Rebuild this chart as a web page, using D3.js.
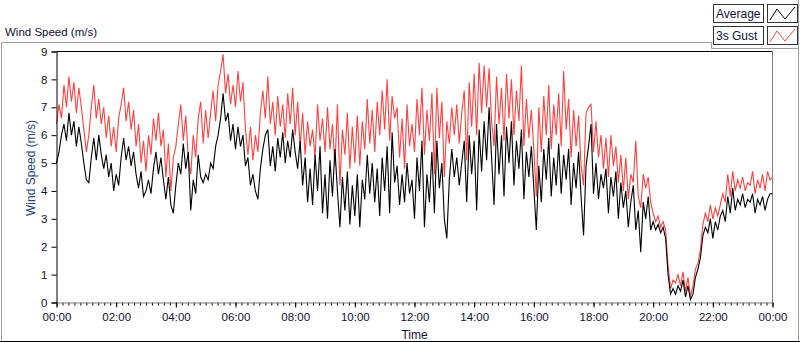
<!DOCTYPE html>
<html>
<head>
<meta charset="utf-8">
<script src="https://cdn.jsdelivr.net/npm/d3@7"></script>
<style>
  body { margin: 0; background: #fff; }
  svg { display: block; font-family: "Liberation Sans", Arial, sans-serif; }
  .tick text { font-size: 11.5px; fill: #111133; }
  .tick line { stroke: #000; }
  .minor .domain { display: none; }
</style>
</head>
<body>
<svg id="chart" width="800" height="342"></svg>
<script>
// wind speed, one value every 5 minutes, 00:00 .. 24:00 (m/s)
var sampleMinutes = 5;

var average = [
  5.0,5.4,6.0,6.4,5.8,6.8,6.0,6.5,5.6,6.3,5.7,5.0,
  4.4,4.3,5.2,5.9,5.1,6.0,5.3,4.8,5.3,4.5,5.0,4.0,
  4.6,4.2,5.2,5.9,5.1,5.6,4.9,5.4,4.6,4.1,4.7,3.8,
  4.0,4.4,3.9,4.8,5.4,4.6,5.2,4.4,3.7,4.5,3.5,3.2,
  4.2,5.0,4.6,5.7,4.8,5.4,3.3,4.4,3.9,5.3,4.5,4.3,
  4.6,4.4,5.0,4.8,5.6,6.0,6.6,7.5,6.5,6.8,5.8,6.4,
  5.5,6.3,5.6,6.0,4.9,5.2,4.2,4.6,4.0,3.7,4.8,5.5,
  6.0,6.2,4.9,5.6,4.7,5.9,5.2,6.1,5.0,5.8,5.2,6.2,
  5.4,4.8,5.8,4.2,5.2,3.6,4.8,3.5,5.3,4.0,5.6,3.2,
  4.6,3.0,5.1,3.8,5.5,4.0,2.7,4.5,3.3,4.7,2.8,4.2,
  3.1,4.6,2.7,4.4,3.7,5.3,3.9,5.0,3.6,4.8,3.1,5.2,
  4.0,5.6,3.2,6.1,4.3,4.9,3.5,4.6,3.6,5.0,3.9,4.4,
  3.0,5.2,4.0,5.8,2.7,4.6,3.6,5.4,3.2,5.8,4.1,5.0,
  3.0,2.3,4.4,5.5,4.5,5.2,4.2,5.0,5.8,3.6,6.0,4.6,
  5.8,3.3,6.2,4.7,6.5,5.1,7.0,5.2,3.5,6.4,4.6,6.0,
  3.8,6.3,5.0,6.5,4.2,5.8,4.8,6.2,3.7,5.4,4.5,5.6,
  4.1,2.6,4.9,3.6,5.5,4.4,5.9,3.8,5.2,4.2,5.7,3.9,
  5.3,4.4,5.5,3.5,5.0,4.1,5.4,3.8,2.4,4.9,5.6,6.4,
  3.9,5.0,3.7,4.6,4.1,4.8,3.2,4.5,3.8,4.7,3.0,4.3,
  3.4,4.0,2.7,3.6,4.2,2.6,3.3,1.8,3.6,3.0,3.8,2.6,
  2.9,2.6,2.8,2.5,2.7,2.3,1.0,0.3,0.5,0.3,0.6,0.4,
  0.8,0.2,0.6,0.1,0.3,0.9,1.2,1.6,2.4,2.7,2.5,3.0,
  2.3,2.9,2.6,3.1,3.3,2.9,3.8,3.2,4.1,3.3,3.7,3.5,
  3.9,3.4,3.7,3.6,3.9,3.2,3.7,3.5,3.8,3.3,3.7,3.9,
  3.9
];

var gust = [
  6.4,7.1,6.6,7.8,7.0,8.1,7.2,7.9,6.8,7.7,7.0,6.2,
  5.4,6.0,7.0,7.8,6.6,7.3,6.4,7.0,5.9,6.7,5.6,6.3,
  5.4,6.6,7.1,7.7,6.5,7.2,6.2,6.9,5.6,6.4,5.0,5.8,
  4.7,6.0,5.3,6.6,5.8,6.8,5.6,6.2,4.5,5.7,4.0,5.2,
  5.6,6.4,7.1,5.8,6.7,5.2,4.6,6.0,5.2,6.6,7.2,5.7,
  6.9,5.9,6.8,7.6,6.5,7.8,8.3,8.9,7.5,8.2,7.1,7.8,
  7.0,8.3,7.2,7.9,6.2,5.3,6.3,5.1,6.0,5.4,6.8,7.6,
  6.6,8.1,6.4,7.2,6.0,7.4,6.3,7.1,5.9,7.5,6.4,7.7,
  6.0,7.2,5.6,6.8,5.3,6.5,5.6,6.2,5.2,7.1,5.8,6.6,
  5.4,7.0,5.5,6.4,4.9,7.1,4.2,6.2,5.3,6.8,4.8,6.3,
  5.0,6.7,4.9,6.5,5.5,7.3,5.7,6.9,5.4,7.2,6.0,7.6,
  6.2,8.0,5.8,7.4,6.6,7.0,5.2,6.6,4.8,7.1,5.6,6.4,
  5.4,7.3,6.0,7.7,5.3,6.9,5.8,7.5,4.6,7.7,5.9,7.2,
  4.5,6.5,5.7,7.0,6.0,7.1,5.7,6.8,7.6,5.1,7.9,6.3,
  8.2,6.0,8.6,6.8,8.5,7.0,8.4,6.5,5.6,8.1,6.4,7.7,
  5.8,8.2,6.6,8.0,6.0,7.6,6.5,8.5,5.6,7.3,5.9,6.9,
  5.5,3.8,7.0,5.4,7.4,6.0,7.8,5.5,7.1,6.0,7.5,5.6,
  8.3,6.2,7.3,5.2,6.9,5.6,6.7,4.9,4.2,6.8,7.0,7.1,
  5.4,6.5,5.2,6.0,4.8,5.9,4.5,6.0,4.9,5.6,4.3,5.3,
  4.0,5.2,3.7,4.6,4.3,5.8,3.8,3.4,4.6,4.1,4.5,3.6,
  3.2,2.9,3.1,2.7,2.9,2.6,1.3,0.5,0.8,0.7,1.0,0.6,
  1.1,0.4,0.9,0.2,0.6,1.2,1.4,1.9,2.8,3.2,2.9,3.5,
  3.0,3.4,3.1,3.5,3.9,3.6,4.6,3.8,4.7,4.0,4.4,4.1,
  4.5,4.0,4.3,4.2,4.7,3.9,4.4,4.1,4.6,4.0,4.7,4.4,
  4.5
];

var seriesNames = ['Average', '3s Gust'];
var seriesColors = ['#000000', '#ff4040'];

var yTicks = [0, 1, 2, 3, 4, 5, 6, 7, 8, 9];
var xTickMinutes = [0, 120, 240, 360, 480, 600, 720, 840, 960, 1080, 1200, 1320, 1440];
var xTickLabels = ['00:00', '02:00', '04:00', '06:00', '08:00', '10:00', '12:00',
                   '14:00', '16:00', '18:00', '20:00', '22:00', '00:00'];

var svg = d3.select('#chart');

var plotLeft = 56.5, plotRight = 772.5, plotTop = 51.5, plotBottom = 302.5;

var x = d3.scaleLinear().domain([0, 1440]).range([plotLeft, plotRight]);
var y = d3.scaleLinear().domain([0, 9]).range([plotBottom, plotTop]);

// outer frame
svg.append('path')
    .attr('d', 'M1.5,341.5 V42.5 H712')
    .attr('fill', 'none').attr('stroke', '#a0a0a0');
svg.append('line')
    .attr('x1', 0).attr('x2', 800).attr('y1', 341.5).attr('y2', 341.5)
    .attr('stroke', '#000');
svg.append('line')
    .attr('x1', 798.5).attr('x2', 798.5).attr('y1', 48).attr('y2', 341)
    .attr('stroke', '#a0a0a0');

// legend panel
svg.append('path')
    .attr('d', 'M711.5,42 V48.5 H799')
    .attr('fill', 'none').attr('stroke', '#a0a0a0');
svg.append('line')
    .attr('x1', 798.5).attr('x2', 798.5).attr('y1', 0).attr('y2', 48)
    .attr('stroke', '#a0a0a0');

var legend = svg.selectAll('.legendItem')
    .data(seriesNames)
    .enter().append('g')
    .attr('transform', function(d, i) { return 'translate(0,' + (i * 22) + ')'; });

legend.append('rect')
    .attr('x', 713.5).attr('y', 4.5).attr('width', 50).attr('height', 18)
    .attr('fill', '#fff').attr('stroke', '#333');
legend.append('text')
    .attr('x', 716).attr('y', 18)
    .style('font-size', '12px').style('fill', '#111133')
    .text(function(d) { return d; });
legend.append('rect')
    .attr('x', 767.5).attr('y', 4.5).attr('width', 30).attr('height', 18)
    .attr('fill', '#fff').attr('stroke', '#333');
legend.append('path')
    .attr('d', 'M770,20 L777,9 L785,19 L795,7')
    .attr('fill', 'none')
    .attr('stroke', function(d, i) { return seriesColors[i]; });

// title
svg.append('text')
    .attr('x', 5).attr('y', 36)
    .style('font-size', '11.5px').style('fill', '#111133')
    .text('Wind Speed (m/s)');

// plot area border
svg.append('line')
    .attr('x1', plotLeft).attr('x2', plotRight).attr('y1', plotTop).attr('y2', plotTop)
    .attr('stroke', '#000');
svg.append('line')
    .attr('x1', plotRight).attr('x2', plotRight).attr('y1', plotTop).attr('y2', plotBottom)
    .attr('stroke', '#808080');

// series
var line = d3.line()
    .x(function(d, i) { return x(i * sampleMinutes); })
    .y(function(d) { return y(d); });

svg.append('path')
    .datum(gust)
    .attr('d', line)
    .attr('fill', 'none')
    .attr('stroke', seriesColors[1])
    .attr('stroke-width', 1.1);

svg.append('path')
    .datum(average)
    .attr('d', line)
    .attr('fill', 'none')
    .attr('stroke', seriesColors[0])
    .attr('stroke-width', 1.1);

// x axis
svg.append('g').classed('minor', true)
    .attr('transform', 'translate(0,' + plotBottom + ')')
    .call(d3.axisBottom(x).tickValues(d3.range(0, 1441, 12)).tickSize(3).tickFormat(''));

var xAxis = svg.append('g')
    .attr('transform', 'translate(0,' + plotBottom + ')')
    .call(d3.axisBottom(x)
        .tickValues(xTickMinutes)
        .tickSize(5)
        .tickPadding(5)
        .tickFormat(function(d, i) { return xTickLabels[i]; }));
xAxis.select('.domain').attr('stroke', '#808080');

// y axis
var yAxis = svg.append('g')
    .attr('transform', 'translate(' + plotLeft + ',0)')
    .call(d3.axisLeft(y).tickValues(yTicks).tickSize(5).tickPadding(4));
yAxis.select('.domain').attr('stroke', '#000');

// axis titles
svg.append('text')
    .attr('x', (plotLeft + plotRight) / 2).attr('y', 339)
    .attr('text-anchor', 'middle')
    .style('font-size', '12px').style('fill', '#111133')
    .text('Time');

svg.append('text')
    .attr('transform', 'translate(35,168) rotate(-90)')
    .attr('text-anchor', 'middle')
    .style('font-size', '12px').style('fill', '#1c3f8c')
    .text('Wind Speed (m/s)');
</script>
</body>
</html>
